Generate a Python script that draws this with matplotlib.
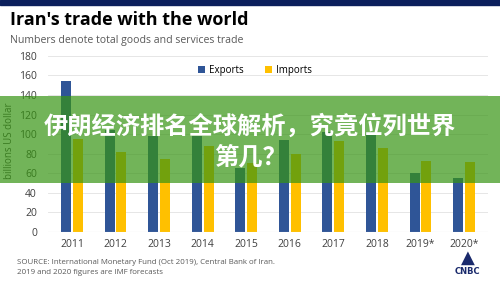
import numpy as np
import matplotlib.pyplot as plt
from matplotlib.patches import Rectangle

years = ["2011", "2012", "2013", "2014", "2015", "2016", "2017", "2018", "2019*", "2020*"]
exports = [154, 104, 98, 98, 65, 94, 102, 102, 60, 55]
imports = [95, 82, 74.5, 88, 70, 80, 93, 86, 73, 71]
yticks = [0, 20, 40, 60, 80, 100, 120, 140, 160, 180]

navy = "#2F5597"
gold = "#FFC000"

fig = plt.figure(figsize=(5, 2.81), dpi=100)
fig.patch.set_facecolor("white")

ax = fig.add_axes([0.096, 0.1744, 0.88, 0.627])
x = np.arange(len(years))
w = 0.23
ax.bar(x - w/2 - 0.02, exports, w, color=navy, label="Exports", zorder=3)
ax.bar(x + w/2 + 0.02, imports, w, color=gold, label="Imports", zorder=3)
ax.set_xlim(-0.55, len(years) - 0.45)
ax.set_ylim(0, 180)
ax.set_yticks(yticks)
ax.set_xticks(x)
ax.set_xticklabels(years, fontsize=7.5, color="#404040", fontfamily="Open Sans")
ax.tick_params(axis="y", labelsize=7.5, labelcolor="#404040", length=0, pad=8)
ax.tick_params(axis="x", length=0, pad=5)
for t in ax.get_yticklabels():
    t.set_fontfamily("Open Sans")
ax.grid(axis="y", color="#E6E6E6", linewidth=0.7, zorder=0)
for s in ax.spines.values():
    s.set_visible(False)
ax.axhline(0, color="#D9D9D9", linewidth=0.8, zorder=4)
ax.set_ylabel("billions US dollar", fontsize=7, color="#404040", fontfamily="Open Sans")
ax.yaxis.set_label_coords(-0.075, 0.52)
leg = ax.legend(loc="upper center", bbox_to_anchor=(0.47, 1.0), ncol=2, frameon=False,
                handlelength=0.7, handleheight=0.7, columnspacing=2.2,
                handletextpad=0.4, prop={"family": "Open Sans", "size": 7})

# top band
fig.patches.append(Rectangle((0, 1 - 5/281), 1, 5/281, transform=fig.transFigure,
                             color="#0B1F5C", zorder=5))

fig.text(0.02, 1 - 20/281, "Iran's trade with the world", fontsize=13, fontweight="bold",
         fontfamily="Open Sans", color="black", va="center")
fig.text(0.02, 1 - 41/281, "Numbers denote total goods and services trade", fontsize=7.6,
         fontfamily="Open Sans", color="#595959", va="center")
fig.text(0.034, 1 - 262/281, "SOURCE: International Monetary Fund (Oct 2019), Central Bank of Iran.",
         fontsize=5.7, fontfamily="Open Sans", color="#595959", va="center")
fig.text(0.034, 1 - 273/281, "2019 and 2020 figures are IMF forecasts",
         fontsize=5.7, fontfamily="Open Sans", color="#595959", va="center")
fig.text(0.935, 1 - 272/281, "CNBC", fontsize=6, fontweight="bold", color="#1A2A6C",
         ha="center", va="center", fontfamily="DejaVu Sans")
fig.text(0.935, 1 - 258/281, "\u25B2", fontsize=13, color="#1A2A6C", ha="center", va="center")

# green banner over the chart
fig.patches.append(Rectangle((0, 1 - 183/281), 1, 87/281, transform=fig.transFigure,
                             facecolor=(55/255, 148/255, 19/255), alpha=0.7, zorder=10))
fig.text(0.5, 1 - 126/281, "伊朗经济排名全球解析，究竟位列世界", fontsize=17.5, fontweight="bold",
         color="white", ha="center", va="center", zorder=11,
         fontfamily=["Noto Sans CJK SC", "DejaVu Sans"])
fig.text(0.5, 1 - 157/281, "第几？", fontsize=17.5, fontweight="bold",
         color="white", ha="center", va="center", zorder=11,
         fontfamily=["Noto Sans CJK SC", "DejaVu Sans"])

fig.savefig("out.png", dpi=100)
